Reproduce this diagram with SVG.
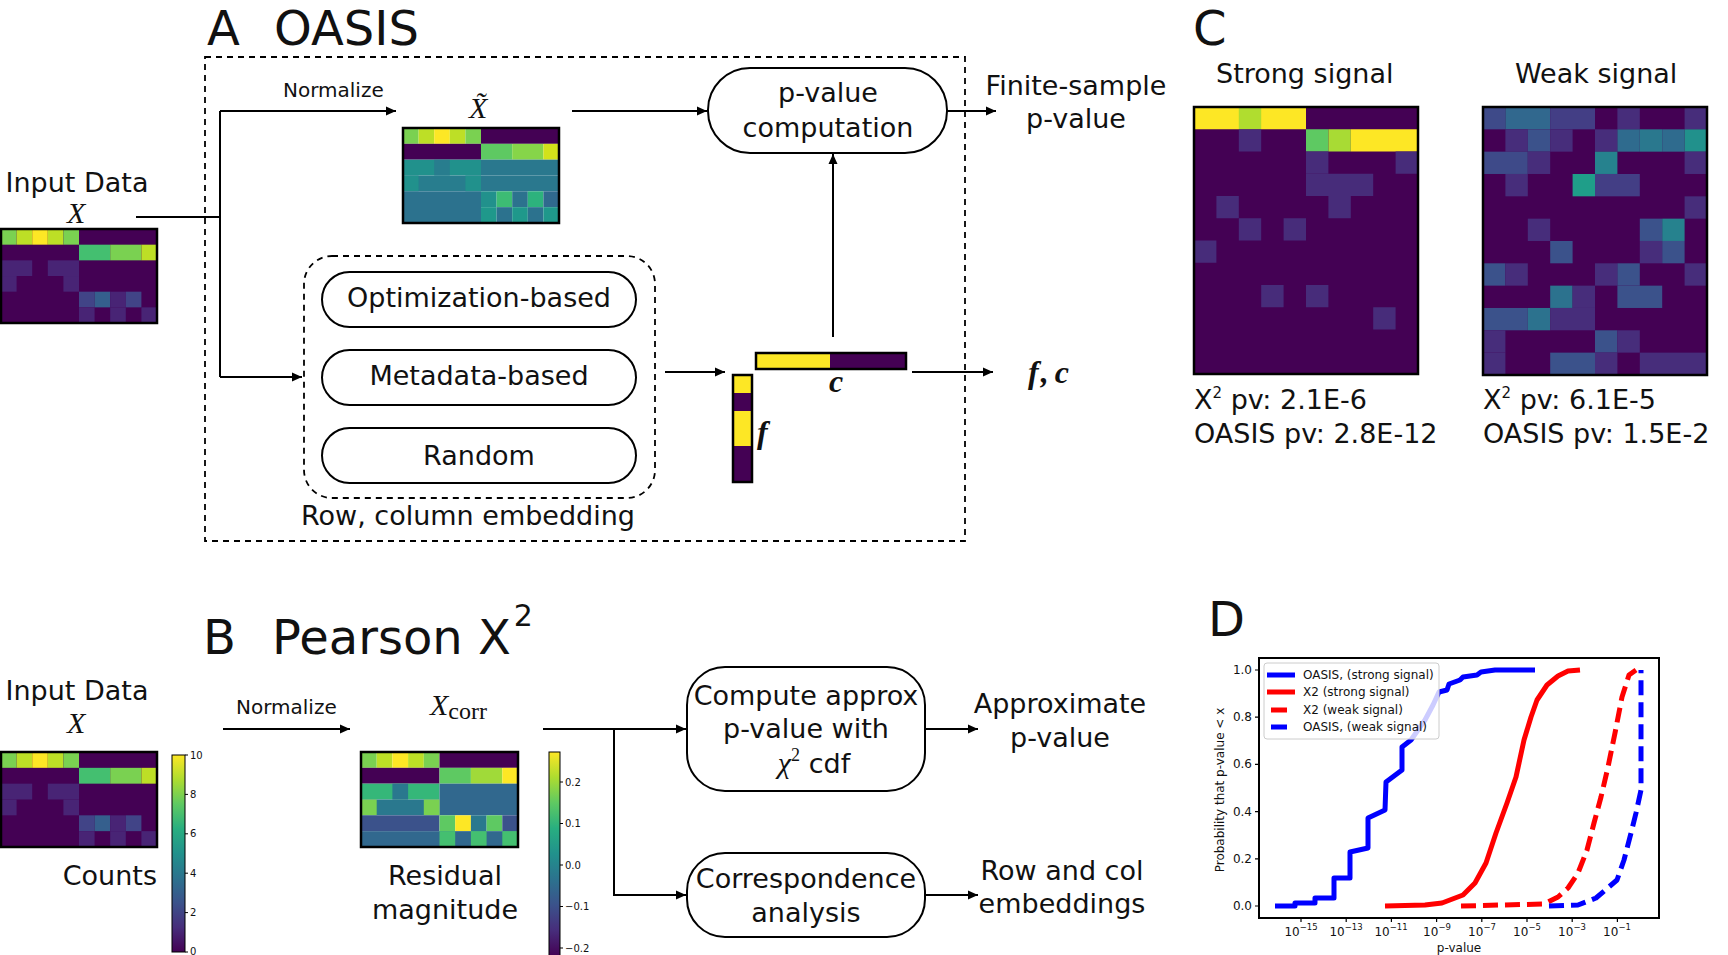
<svg xmlns="http://www.w3.org/2000/svg" width="1728" height="955" viewBox="0 0 1728 955">
<style>
.t{font-family:'DejaVu Sans',sans-serif;fill:#111;font-size:27px}
.h{font-size:48px}
.s20{font-size:20px}
.m{font-family:'Liberation Serif','DejaVu Serif',serif;font-style:italic;fill:#111}
.sm{font-family:'DejaVu Sans',sans-serif;fill:#111;font-size:12px}
.ln{stroke:#000;stroke-width:2;fill:none}
.ar{marker-end:url(#ah)}
.box{fill:#fff;stroke:#000;stroke-width:2}
.dash{fill:none;stroke:#000;stroke-width:1.8;stroke-dasharray:6 5}
.bd{fill:none;stroke:#000;stroke-width:2.5}
.cur{fill:none;stroke-width:5;stroke-linejoin:round}
</style>
<defs>
<marker id="ah" viewBox="0 0 10 10" refX="10" refY="5" markerWidth="11" markerHeight="10" markerUnits="userSpaceOnUse" orient="auto"><path d="M0,0.5 L10,5 L0,9.5 z" fill="#000"/></marker>
<linearGradient id="vir" x1="0" y1="1" x2="0" y2="0">
<stop offset="0" stop-color="#440154"/><stop offset="0.125" stop-color="#472d7b"/><stop offset="0.25" stop-color="#3b528b"/><stop offset="0.375" stop-color="#2c728e"/><stop offset="0.5" stop-color="#21918c"/><stop offset="0.625" stop-color="#28ae80"/><stop offset="0.75" stop-color="#5ec962"/><stop offset="0.875" stop-color="#addc30"/><stop offset="1" stop-color="#fde725"/>
</linearGradient>
<g id="inmat">
<rect width="10" height="6" fill="#440154"/>
<rect x="0" width="1" height="1" fill="#7ad151"/><rect x="1" width="1" height="1" fill="#bddf26"/><rect x="2" width="1" height="1" fill="#fde725"/><rect x="3" width="1" height="1" fill="#bddf26"/><rect x="4" width="1" height="1" fill="#7ad151"/>
<rect x="5" y="1" width="2" height="1" fill="#44bf70"/><rect x="7" y="1" width="2" height="1" fill="#7ad151"/><rect x="9" y="1" width="1" height="1" fill="#bddf26"/>
<rect x="0" y="2" width="2" height="1" fill="#482475"/><rect x="3" y="2" width="2" height="1" fill="#482475"/>
<rect x="0" y="3" width="1" height="1" fill="#482475"/><rect x="4" y="3" width="1" height="1" fill="#482475"/>
<rect x="5" y="4" width="1" height="1" fill="#414487"/><rect x="6" y="4" width="1" height="1" fill="#355f8d"/><rect x="7" y="4" width="1" height="1" fill="#482475"/><rect x="8" y="4" width="1" height="1" fill="#414487"/>
<rect x="5" y="5" width="1" height="1" fill="#482475"/><rect x="7" y="5" width="1" height="1" fill="#482475"/><rect x="9" y="5" width="1" height="1" fill="#482475"/>
</g>
</defs>
<rect width="1728" height="955" fill="#fff"/>

<!-- Headings -->
<g id="headings">
<text x="207" y="45" class="t h">A</text><text x="274" y="45" class="t h">OASIS</text>
<text x="203" y="654" class="t h">B</text><text x="272" y="654" class="t h">Pearson X<tspan font-size="30" dx="3" dy="-28">2</tspan></text>
<text x="1193" y="45" class="t h">C</text>
<text x="1208" y="636" class="t h">D</text>
</g>

<!-- Panel A -->
<g id="oasis-box"><rect x="205" y="57" width="760" height="484" class="dash"/></g>

<g id="inputA">
<text x="77" y="192" class="t" text-anchor="middle">Input Data</text>
<text x="67" y="223" class="m" font-size="30">X</text>
<use href="#inmat" transform="translate(1,229) scale(15.6,15.67)"/>
<rect x="1" y="229" width="156" height="94" class="bd"/>
</g>

<g id="xtilde">
<text x="469" y="118" class="m" font-size="30">X&#x303;</text>
<g transform="translate(403,128) scale(15.6,15.83)">
<rect x="0" y="0" width="1" height="1" fill="#7ad151"/><rect x="1" y="0" width="1" height="1" fill="#bddf26"/><rect x="2" y="0" width="1" height="1" fill="#fde725"/><rect x="3" y="0" width="1" height="1" fill="#bddf26"/><rect x="4" y="0" width="1" height="1" fill="#7ad151"/><rect x="5" y="0" width="5" height="1" fill="#440154"/>
<rect x="0" y="1" width="5" height="1" fill="#440154"/><rect x="5" y="1" width="2" height="1" fill="#5ec962"/><rect x="7" y="1" width="2" height="1" fill="#86d549"/><rect x="9" y="1" width="1" height="1" fill="#d2e21b"/>
<rect x="0" y="2" width="5" height="1" fill="#21918c"/><rect x="2" y="2" width="1" height="1" fill="#287d8e"/><rect x="5" y="2" width="5" height="1" fill="#2a788e"/>
<rect x="0" y="3" width="5" height="1" fill="#287d8e"/><rect x="0" y="3" width="1" height="1" fill="#21918c"/><rect x="4" y="3" width="1" height="1" fill="#21918c"/><rect x="5" y="3" width="5" height="1" fill="#2a788e"/>
<rect x="0" y="4" width="5" height="2" fill="#2c728e"/><rect x="5" y="4" width="1" height="1" fill="#21918c"/><rect x="6" y="4" width="1" height="1" fill="#3dbc74"/><rect x="7" y="4" width="1" height="1" fill="#2c728e"/><rect x="8" y="4" width="1" height="1" fill="#2db27d"/><rect x="9" y="4" width="1" height="1" fill="#30698e"/>
<rect x="5" y="5" width="1" height="1" fill="#1f988b"/><rect x="6" y="5" width="1" height="1" fill="#2c728e"/><rect x="7" y="5" width="1" height="1" fill="#1f988b"/><rect x="8" y="5" width="1" height="1" fill="#2c728e"/><rect x="9" y="5" width="1" height="1" fill="#1f988b"/>
</g>
<rect x="403" y="128" width="156" height="95" class="bd"/>
</g>

<g id="pvalue-node">
<rect x="708" y="68" width="239" height="85" rx="42" class="box"/>
<text x="828" y="102" class="t" text-anchor="middle">p-value</text>
<text x="828" y="137" class="t" text-anchor="middle">computation</text>
</g>

<g id="finite-label">
<text x="1076" y="95" class="t" text-anchor="middle">Finite-sample</text>
<text x="1076" y="128" class="t" text-anchor="middle">p-value</text>
</g>

<g id="embedding-group">
<rect x="304" y="256" width="351" height="242" rx="28" class="dash"/>
<text x="468" y="525" class="t" text-anchor="middle">Row, column embedding</text>
</g>
<g id="opt-node"><rect x="322" y="272" width="314" height="55" rx="27.5" class="box"/><text x="479" y="307" class="t" text-anchor="middle">Optimization-based</text></g>
<g id="meta-node"><rect x="322" y="350" width="314" height="55" rx="27.5" class="box"/><text x="479" y="385" class="t" text-anchor="middle">Metadata-based</text></g>
<g id="random-node"><rect x="322" y="428" width="314" height="55" rx="27.5" class="box"/><text x="479" y="465" class="t" text-anchor="middle">Random</text></g>

<g id="fc-vectors">
<rect x="756" y="353" width="74" height="16" fill="#fde725"/><rect x="830" y="353" width="76" height="16" fill="#440154"/>
<rect x="756" y="353" width="150" height="16" fill="none" stroke="#000" stroke-width="2.5"/>
<rect x="733" y="375" width="19" height="18" fill="#fde725"/><rect x="733" y="393" width="19" height="18" fill="#440154"/><rect x="733" y="411" width="19" height="35" fill="#fde725"/><rect x="733" y="446" width="19" height="36" fill="#440154"/>
<rect x="733" y="375" width="19" height="107" fill="none" stroke="#000" stroke-width="2.5"/>
<text x="829" y="392" class="m" font-size="32" font-weight="bold">c</text>
<text x="757" y="443" class="m" font-size="32" font-weight="bold">f</text>
</g>
<g id="fc-label"><text x="1028" y="383" class="m" font-size="32" font-weight="bold">f<tspan dx="2">,</tspan><tspan dx="6">c</tspan></text></g>

<!-- Panel B -->
<g id="inputB">
<text x="77" y="700" class="t" text-anchor="middle">Input Data</text>
<text x="67" y="733" class="m" font-size="30">X</text>
<use href="#inmat" transform="translate(1,752) scale(15.6,15.83)"/>
<rect x="1" y="752" width="156" height="95" class="bd"/>
<text x="157" y="885" class="t" text-anchor="end">Counts</text>
</g>
<g id="cbar1">
<rect x="172" y="755" width="13" height="197" fill="url(#vir)" stroke="#000" stroke-width="1"/>
<path d="M185,755h3M185,794.4h3M185,833.8h3M185,873.2h3M185,912.6h3M185,952h3" stroke="#000" stroke-width="1"/>
<g class="sm"><text x="190" y="759" font-size="10">10</text><text x="190" y="798" font-size="10">8</text><text x="190" y="837" font-size="10">6</text><text x="190" y="877" font-size="10">4</text><text x="190" y="916" font-size="10">2</text><text x="190" y="955" font-size="10">0</text></g>
</g>

<g id="normB"><text x="236" y="714" class="t s20">Normalize</text></g>

<g id="xcorr">
<text x="430" y="715" class="m" font-size="30">X<tspan font-style="normal" font-size="24" dy="4">corr</tspan></text>
<g transform="translate(361,752) scale(15.7,15.83)">
<rect x="0" y="0" width="1" height="1" fill="#7ad151"/><rect x="1" y="0" width="1" height="1" fill="#bddf26"/><rect x="2" y="0" width="1" height="1" fill="#fde725"/><rect x="3" y="0" width="1" height="1" fill="#bddf26"/><rect x="4" y="0" width="1" height="1" fill="#7ad151"/><rect x="5" y="0" width="5" height="1" fill="#440154"/>
<rect x="0" y="1" width="5" height="1" fill="#440154"/><rect x="5" y="1" width="2" height="1" fill="#5ec962"/><rect x="7" y="1" width="2" height="1" fill="#a0da39"/><rect x="9" y="1" width="1" height="1" fill="#fde725"/>
<rect x="0" y="2" width="5" height="1" fill="#35b779"/><rect x="2" y="2" width="1" height="1" fill="#2a788e"/><rect x="5" y="2" width="5" height="2" fill="#31688e"/>
<rect x="0" y="3" width="5" height="1" fill="#2a788e"/><rect x="0" y="3" width="1" height="1" fill="#7ad151"/><rect x="4" y="3" width="1" height="1" fill="#7ad151"/>
<rect x="0" y="4" width="5" height="1" fill="#3b528b"/><rect x="5" y="4" width="1" height="1" fill="#5ec962"/><rect x="6" y="4" width="1" height="1" fill="#fde725"/><rect x="7" y="4" width="1" height="1" fill="#2a788e"/><rect x="8" y="4" width="1" height="1" fill="#5ec962"/><rect x="9" y="4" width="1" height="1" fill="#3b528b"/>
<rect x="0" y="5" width="10" height="1" fill="#31688e"/><rect x="5" y="5" width="1" height="1" fill="#44bf70"/><rect x="7" y="5" width="1" height="1" fill="#44bf70"/><rect x="9" y="5" width="1" height="1" fill="#44bf70"/>
</g>
<rect x="361" y="752" width="157" height="95" class="bd"/>
<text x="445" y="885" class="t" text-anchor="middle">Residual</text>
<text x="445" y="919" class="t" text-anchor="middle">magnitude</text>
</g>
<g id="cbar2">
<rect x="549" y="752" width="11" height="204" fill="url(#vir)" stroke="#000" stroke-width="1"/>
<path d="M560,782h3M560,823.5h3M560,865h3M560,906.5h3M560,948h3" stroke="#000" stroke-width="1"/>
<g class="sm"><text x="565" y="786" font-size="10">0.2</text><text x="565" y="827" font-size="10">0.1</text><text x="565" y="869" font-size="10">0.0</text><text x="565" y="910" font-size="10">−0.1</text><text x="565" y="952" font-size="10">−0.2</text></g>
</g>

<g id="compute-node">
<rect x="687" y="667" width="238" height="124" rx="38" class="box"/>
<text x="806" y="705" class="t" text-anchor="middle">Compute approx</text>
<text x="806" y="738" class="t" text-anchor="middle">p-value with</text>
<text x="814" y="773" class="t" text-anchor="middle"><tspan class="m" font-size="30">χ</tspan><tspan font-family="Liberation Serif, serif" font-size="18" dy="-12">2</tspan><tspan dy="12"> cdf</tspan></text>
</g>
<g id="ca-node">
<rect x="687" y="853" width="238" height="84" rx="38" class="box"/>
<text x="806" y="888" class="t" text-anchor="middle">Correspondence</text>
<text x="806" y="922" class="t" text-anchor="middle">analysis</text>
</g>
<g id="approx-label">
<text x="1060" y="713" class="t" text-anchor="middle">Approximate</text>
<text x="1060" y="747" class="t" text-anchor="middle">p-value</text>
</g>
<g id="rowcol-label">
<text x="1062" y="880" class="t" text-anchor="middle">Row and col</text>
<text x="1062" y="913" class="t" text-anchor="middle">embeddings</text>
</g>

<!-- Connectors -->
<g id="connectors">
<path d="M136,217H220" class="ln"/>
<path d="M220,111V377" class="ln"/>
<path d="M220,111H396" class="ln ar"/>
<path d="M220,377H302" class="ln ar"/>
<path d="M572,111H707" class="ln ar"/>
<path d="M947,111H996" class="ln ar"/>
<path d="M833,337V154" class="ln ar"/>
<path d="M665,372H725" class="ln ar"/>
<path d="M912,372H993" class="ln ar"/>
<path d="M223,729H350" class="ln ar"/>
<path d="M543,729H686" class="ln ar"/>
<path d="M614,729V895H686" class="ln ar"/>
<path d="M925,729H978" class="ln ar"/>
<path d="M925,895H978" class="ln ar"/>
</g>
<g id="normA"><text x="283" y="97" class="t s20">Normalize</text></g>

<!-- Panel C -->
<g id="strong-signal">
<text x="1216" y="83" class="t">Strong signal</text>
<g transform="translate(1194,107) scale(22.4,22.25)">
<rect width="10" height="12" fill="#440154"/>
<rect x="0" y="0" width="5" height="1" fill="#fde725"/><rect x="2" y="0" width="1" height="1" fill="#b0dd2f"/>
<rect x="2" y="1" width="1" height="1" fill="#472c7a"/><rect x="5" y="1" width="1" height="1" fill="#5ec962"/><rect x="6" y="1" width="1" height="1" fill="#a8db34"/><rect x="7" y="1" width="3" height="1" fill="#fde725"/>
<rect x="5" y="2" width="1" height="1" fill="#472c7a"/><rect x="9" y="2" width="1" height="1" fill="#472c7a"/>
<rect x="5" y="3" width="3" height="1" fill="#472c7a"/>
<rect x="1" y="4" width="1" height="1" fill="#472c7a"/><rect x="6" y="4" width="1" height="1" fill="#472c7a"/>
<rect x="2" y="5" width="1" height="1" fill="#472c7a"/><rect x="4" y="5" width="1" height="1" fill="#472c7a"/>
<rect x="0" y="6" width="1" height="1" fill="#472c7a"/>
<rect x="3" y="8" width="1" height="1" fill="#472c7a"/><rect x="5" y="8" width="1" height="1" fill="#472c7a"/>
<rect x="8" y="9" width="1" height="1" fill="#472c7a"/>
</g>
<rect x="1194" y="107" width="224" height="267" class="bd"/>
<text x="1194" y="409" class="t">X<tspan font-size="15" dy="-11">2</tspan><tspan dy="11"> pv: 2.1E-6</tspan></text>
<text x="1194" y="443" class="t">OASIS pv: 2.8E-12</text>
</g>
<g id="weak-signal">
<text x="1515" y="83" class="t">Weak signal</text>
<g transform="translate(1483,107) scale(22.4,22.33)">
<rect width="10" height="12" fill="#440154"/>
<rect x="0" y="0" width="1" height="1" fill="#3e4a89"/><rect x="1" y="0" width="2" height="1" fill="#31688e"/><rect x="3" y="0" width="2" height="1" fill="#433e85"/><rect x="6" y="0" width="1" height="1" fill="#472d7b"/><rect x="9" y="0" width="1" height="1" fill="#472d7b"/>
<rect x="1" y="1" width="1" height="1" fill="#472d7b"/><rect x="2" y="1" width="1" height="1" fill="#3b528b"/><rect x="3" y="1" width="1" height="1" fill="#472d7b"/><rect x="5" y="1" width="1" height="1" fill="#472d7b"/><rect x="6" y="1" width="1" height="1" fill="#2f6b8e"/><rect x="7" y="1" width="1" height="1" fill="#2a788e"/><rect x="8" y="1" width="1" height="1" fill="#2f6b8e"/><rect x="9" y="1" width="1" height="1" fill="#21918c"/>
<rect x="0" y="2" width="2" height="1" fill="#3e4a89"/><rect x="2" y="2" width="1" height="1" fill="#472d7b"/><rect x="5" y="2" width="1" height="1" fill="#26828e"/><rect x="9" y="2" width="1" height="1" fill="#472d7b"/>
<rect x="1" y="3" width="1" height="1" fill="#472d7b"/><rect x="4" y="3" width="1" height="1" fill="#1f9e89"/><rect x="5" y="3" width="2" height="1" fill="#433e85"/>
<rect x="9" y="4" width="1" height="1" fill="#472d7b"/>
<rect x="2" y="5" width="1" height="1" fill="#472d7b"/><rect x="7" y="5" width="1" height="1" fill="#3b528b"/><rect x="8" y="5" width="1" height="1" fill="#26828e"/>
<rect x="3" y="6" width="1" height="1" fill="#3b528b"/><rect x="7" y="6" width="1" height="1" fill="#472d7b"/><rect x="8" y="6" width="1" height="1" fill="#3b528b"/>
<rect x="0" y="7" width="1" height="1" fill="#3b528b"/><rect x="1" y="7" width="1" height="1" fill="#472d7b"/><rect x="5" y="7" width="1" height="1" fill="#472d7b"/><rect x="6" y="7" width="1" height="1" fill="#3b528b"/><rect x="9" y="7" width="1" height="1" fill="#472d7b"/>
<rect x="3" y="8" width="1" height="1" fill="#2c728e"/><rect x="4" y="8" width="1" height="1" fill="#472d7b"/><rect x="6" y="8" width="2" height="1" fill="#3b528b"/>
<rect x="0" y="9" width="2" height="1" fill="#3b528b"/><rect x="2" y="9" width="1" height="1" fill="#2c728e"/><rect x="3" y="9" width="2" height="1" fill="#472d7b"/>
<rect x="0" y="10" width="1" height="1" fill="#472d7b"/><rect x="5" y="10" width="1" height="1" fill="#3b528b"/><rect x="6" y="10" width="1" height="1" fill="#472d7b"/>
<rect x="0" y="11" width="1" height="1" fill="#472d7b"/><rect x="3" y="11" width="2" height="1" fill="#3b528b"/><rect x="5" y="11" width="1" height="1" fill="#472d7b"/><rect x="7" y="11" width="3" height="1" fill="#472d7b"/>
</g>
<rect x="1483" y="107" width="224" height="268" class="bd"/>
<text x="1483" y="409" class="t">X<tspan font-size="15" dy="-11">2</tspan><tspan dy="11"> pv: 6.1E-5</tspan></text>
<text x="1483" y="443" class="t">OASIS pv: 1.5E-2</text>
</g>

<!-- Panel D -->
<g id="plotD">
<polyline class="cur" stroke="#0000ff" points="1275,906 1295,906 1295,903 1315,903 1315,898 1334,898 1334,878 1350,878 1350,852 1368,848 1368,818 1385,810 1386,782 1402,770 1402,747 1411,740 1418,730 1425,720 1433,705 1439,692 1447,690 1449,684 1460,680 1463,677 1477,675 1481,672 1495,670 1535,670"/>
<polyline class="cur" stroke="#ff0000" points="1385,906 1425,905 1442,903 1463,895 1475,883 1486,863 1496,833 1507,803 1516,777 1524,740 1531,717 1537,700 1547,685 1558,676 1568,671 1580,670"/>
<polyline class="cur" stroke="#ff0000" stroke-dasharray="15 7" points="1461,906 1544,904 1558,897 1568,888 1578,873 1587,850 1594,823 1601,797 1608,767 1615,733 1622,697 1629,675 1636,670"/>
<polyline class="cur" stroke="#0000ff" stroke-dasharray="15 7" points="1549,906 1578,905 1596,898 1617,880 1624,860 1631,833 1636,813 1641,790 1641,670"/>
<rect x="1264" y="663" width="175" height="76" rx="3" fill="#fff" fill-opacity="0.8" stroke="#ccc" stroke-width="1"/>
<path d="M1267,675H1295" stroke="#0000ff" stroke-width="5"/>
<path d="M1267,692H1295" stroke="#ff0000" stroke-width="5"/>
<path d="M1271,710H1287" stroke="#ff0000" stroke-width="5"/>
<path d="M1271,727H1287" stroke="#0000ff" stroke-width="5"/>
<text x="1303" y="679" class="sm">OASIS, (strong signal)</text>
<text x="1303" y="696" class="sm">X2 (strong signal)</text>
<text x="1303" y="714" class="sm">X2 (weak signal)</text>
<text x="1303" y="731" class="sm">OASIS, (weak signal)</text>
<rect x="1259" y="658" width="400" height="260" fill="none" stroke="#000" stroke-width="2"/>
<path d="M1255,670h4M1255,717.2h4M1255,764.4h4M1255,811.6h4M1255,858.8h4M1255,906h4" stroke="#000" stroke-width="1.2"/>
<path d="M1301,918v4M1346.2,918v4M1391.4,918v4M1436.6,918v4M1481.8,918v4M1527,918v4M1572.2,918v4M1617.4,918v4" stroke="#000" stroke-width="1.2"/>
<g class="sm" text-anchor="end">
<text x="1252" y="674">1.0</text><text x="1252" y="721">0.8</text><text x="1252" y="768">0.6</text><text x="1252" y="816">0.4</text><text x="1252" y="863">0.2</text><text x="1252" y="910">0.0</text>
</g>
<g class="sm" text-anchor="middle">
<text x="1301" y="936">10<tspan font-size="8.5" dy="-6">−15</tspan></text>
<text x="1346" y="936">10<tspan font-size="8.5" dy="-6">−13</tspan></text>
<text x="1391" y="936">10<tspan font-size="8.5" dy="-6">−11</tspan></text>
<text x="1437" y="936">10<tspan font-size="8.5" dy="-6">−9</tspan></text>
<text x="1482" y="936">10<tspan font-size="8.5" dy="-6">−7</tspan></text>
<text x="1527" y="936">10<tspan font-size="8.5" dy="-6">−5</tspan></text>
<text x="1572" y="936">10<tspan font-size="8.5" dy="-6">−3</tspan></text>
<text x="1617" y="936">10<tspan font-size="8.5" dy="-6">−1</tspan></text>
<text x="1459" y="952">p-value</text>
</g>
<text x="0" y="0" class="sm" font-size="11.5" text-anchor="middle" transform="translate(1224,790) rotate(-90)">Probability that p-value &lt; x</text>
</g>
</svg>
